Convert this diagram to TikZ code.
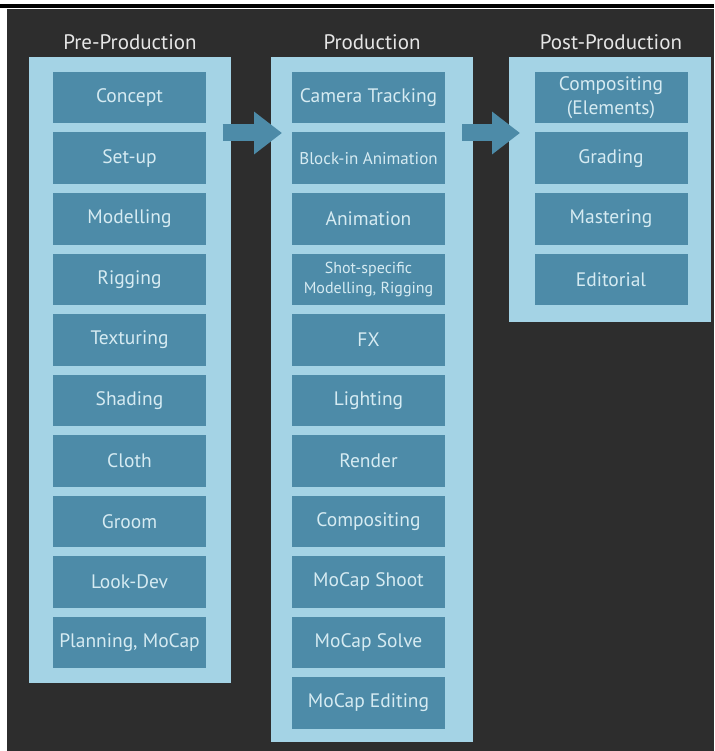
\documentclass[tikz,border=0pt]{standalone}
\usepackage{fontspec}
\setmainfont{PT Sans}
\usetikzlibrary{arrows.meta}

\definecolor{bgdark}{HTML}{2D2D2D}
\definecolor{panelblue}{HTML}{A4D3E5}
\definecolor{taskblue}{HTML}{4D8BA8}
\definecolor{tasktext}{HTML}{D6EBF2}
\definecolor{headtext}{HTML}{E6E6E6}

\tikzset{
  stage/.style={fill=panelblue, minimum width=202pt, inner sep=0pt, outer sep=0pt},
  task/.style={fill=taskblue, text=tasktext, minimum width=153pt, minimum height=51.5pt,
    inner sep=0pt, outer sep=0pt, align=center, font=\fontsize{19.5}{23.5}\selectfont},
  taskmid/.style={task, font=\fontsize{17}{19}\selectfont},
  tasksmall/.style={task, font=\fontsize{16}{19.5}\selectfont},
  heading/.style={text=headtext, font=\fontsize{21}{23}\selectfont},
  flow/.style={draw=taskblue, line width=17pt, -{Triangle[length=28pt, width=41pt]}},
}

\begin{document}
\begin{tikzpicture}[x=1pt, y=-1pt]
    \useasboundingbox (0,0) rectangle (714,751);
    \fill[black] (0,4) rectangle (714,8);
    \fill[bgdark] (7,9) rectangle (714,751);

    % stages
    \node[stage, minimum height=626pt] (pre) at (129.5,370) {};
    \node[stage, minimum height=685pt] (prod) at (372,399.5) {};
    \node[stage, minimum height=265pt] (post) at (610,189.5) {};

    \node[heading] (preTitle) at (130,42) {Pre-Production};
    \node[heading] (prodTitle) at (372,42) {Production};
    \node[heading] (postTitle) at (611,42) {Post-Production};

    % tasks
    \foreach \txt [count=\i] in {Concept, Set-up, Modelling, Rigging, Texturing,
        Shading, Cloth, Groom, Look-Dev, {Planning, MoCap}}
      \node[task] (pre\i) at (129.5,{97.75+60.5*(\i-1)}) {\txt};

    \foreach \txt/\look [count=\i] in {Camera Tracking/task, Block-in Animation/taskmid,
        Animation/task, {Shot-specific\\Modelling, Rigging}/tasksmall, FX/task,
        Lighting/task, Render/task, Compositing/task, MoCap Shoot/task,
        MoCap Solve/task, MoCap Editing/task}
      \node[\look] (prod\i) at (368.5,{97.75+60.5*(\i-1)}) {\txt};

    \foreach \txt [count=\i] in {Compositing\\(Elements), Grading, Mastering, Editorial}
      \node[task] (post\i) at (611,{97.75+60.5*(\i-1)}) {\txt};

    % flow between stages
    \coordinate (flowrow) at (0,133);
    \draw[flow] ([xshift=-8pt]pre.east |- flowrow) -- ([xshift=11pt]prod.west |- flowrow);
    \draw[flow] ([xshift=-11pt]prod.east |- flowrow) -- ([xshift=11pt]post.west |- flowrow);
\end{tikzpicture}
\end{document}
